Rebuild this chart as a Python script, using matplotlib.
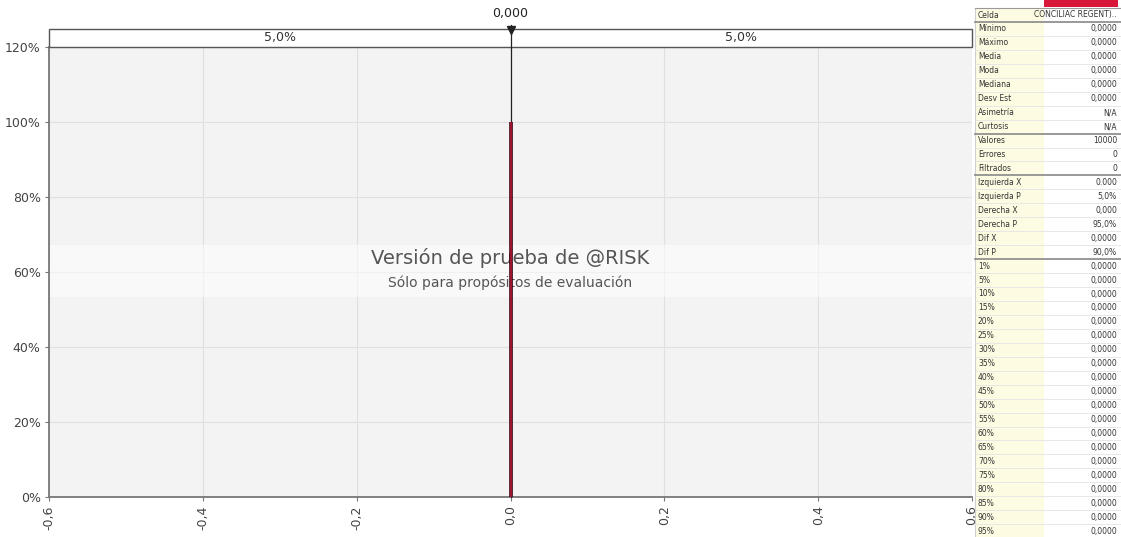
import matplotlib
matplotlib.use("Agg")
import matplotlib.pyplot as plt
from matplotlib.patches import Rectangle

plt.rcParams['font.family'] = ['DejaVu Sans']

# data
cdf_x = [0.0, 0.0]
cdf_p = [0.0, 1.0]
left_x = 0.0
left_p = 0.05
right_x = 0.0
right_p = 0.95
x_ticks = [-0.6, -0.4, -0.2, 0.0, 0.2, 0.4, 0.6]
x_tick_labels = ["-0,6", "-0,4", "-0,2", "0,0", "0,2", "0,4", "0,6"]
y_ticks = [0.0, 0.2, 0.4, 0.6, 0.8, 1.0, 1.2]
y_tick_labels = ["0%", "20%", "40%", "60%", "80%", "100%", "120%"]

stat_labels = ["Celda", "Mínimo", "Máximo", "Media", "Moda", "Mediana", "Desv Est",
               "Asimetría", "Curtosis", "Valores", "Errores", "Filtrados",
               "Izquierda X", "Izquierda P", "Derecha X", "Derecha P", "Dif X", "Dif P",
               "1%", "5%", "10%", "15%", "20%", "25%", "30%", "35%", "40%", "45%",
               "50%", "55%", "60%", "65%", "70%", "75%", "80%", "85%", "90%", "95%"]
stat_values = ["CONCILIAC REGENT)..", "0,0000", "0,0000", "0,0000", "0,0000", "0,0000",
               "0,0000", "N/A", "N/A", "10000", "0", "0",
               "0.000", "5,0%", "0,000", "95,0%", "0,0000", "90,0%"] + ["0,0000"] * 20
separators = [0, 8, 11, 17]

W, H = 1121, 537
fig = plt.figure(figsize=(W / 100, H / 100), dpi=100)
fig.patch.set_facecolor("white")

ax = fig.add_axes([49 / W, 1 - 497 / H, (972 - 49) / W, (497 - 47) / H])
ax.set_facecolor("#f3f3f3")
ax.set_xlim(-0.6, 0.6)
ax.set_ylim(0, 1.2)
ax.set_xticks(x_ticks)
ax.set_xticklabels(x_tick_labels, rotation=90, fontsize=9, color="#444")
ax.set_yticks(y_ticks)
ax.set_yticklabels(y_tick_labels, fontsize=9, color="#444")
ax.tick_params(length=3, color="#777", pad=3)
ax.grid(True, color="#e0e0e0", lw=0.8)
ax.set_axisbelow(True)
for s in ["top", "right"]:
    ax.spines[s].set_visible(False)
for s in ["left", "bottom"]:
    ax.spines[s].set_color("#777")
    ax.spines[s].set_linewidth(1.3)

# watermark band
ax.add_patch(Rectangle((0, 0.444), 1, 0.116, transform=ax.transAxes,
                       facecolor="white", alpha=0.55, edgecolor="none", zorder=2))
ax.text(0.5, 0.531, "Versión de prueba de @RISK", transform=ax.transAxes,
        ha="center", va="center", fontsize=14, color="#555", zorder=3)
ax.text(0.5, 0.476, "Sólo para propósitos de evaluación", transform=ax.transAxes,
        ha="center", va="center", fontsize=10, color="#555", zorder=3)

# cumulative curve
band_h = 0.04
ax.plot([left_x, left_x], [0, 1.2 * (1 + band_h) + 0.01], color="#222", lw=0.9,
        clip_on=False, zorder=4)
ax.plot(cdf_x, cdf_p, color="#3a0010", lw=2.6, zorder=5, solid_capstyle="butt")
ax.plot(cdf_x, cdf_p, color="#a3142e", lw=1.4, zorder=5, solid_capstyle="butt")

# top band
ax.add_patch(Rectangle((0, 1.0), 1, band_h, transform=ax.transAxes, facecolor="white",
                       edgecolor="#555", lw=1, clip_on=False, zorder=3))
ax.text((-0.6 + left_x) / 2, 1.2 * (1 + band_h / 2), f"{left_p * 100:.1f}%".replace(".", ","),
        ha="center", va="center", fontsize=9, color="#333", zorder=4, clip_on=False)
ax.text((right_x + 0.6) / 2, 1.2 * (1 + band_h / 2), f"{(1 - right_p) * 100:.1f}%".replace(".", ","),
        ha="center", va="center", fontsize=9, color="#333", zorder=4, clip_on=False)
ax.plot([left_x], [1.2 * (1 + band_h) - 0.002], marker="v", color="#222", ms=6,
        clip_on=False, zorder=6)
ax.text(left_x, 1.2 * (1 + band_h) + 0.04, f"{left_x:.3f}".replace(".", ","),
        ha="center", va="center", fontsize=9, color="#222", clip_on=False)

# statistics table
def fx(px):
    return px / W


def fy(py):
    return 1 - py / H


tx0, tx1, tx2 = 975, 1044, 1121
step = 13.95
y_first = 15
top0 = y_first - step / 2
fig.patches.append(Rectangle((fx(tx0), 0), fx(tx1) - fx(tx0), fy(top0), transform=fig.transFigure,
                             facecolor="#fdfbe2", edgecolor="none"))
fig.patches.append(Rectangle((fx(tx1), fy(top0 - 1)), fx(tx2 - 3) - fx(tx1), fy(0) - fy(top0 - 1),
                             transform=fig.transFigure, facecolor="#d8173b", edgecolor="none"))
fig.add_artist(plt.Line2D([fx(tx0), fx(tx0)], [0, fy(top0)], transform=fig.transFigure,
                          color="#cfcfcf", lw=0.8))
for i, (lab, val) in enumerate(zip(stat_labels, stat_values)):
    yc = y_first + i * step
    fig.text(fx(tx0 + 3), fy(yc), lab, ha="left", va="center", fontsize=5.5, color="#333")
    fig.text(fx(tx2 - 4), fy(yc), val, ha="right", va="center", fontsize=5.5, color="#333")
    yb = yc + step / 2
    if i in separators:
        fig.add_artist(plt.Line2D([fx(tx0), fx(tx2)], [fy(yb), fy(yb)], transform=fig.transFigure,
                                  color="#888", lw=1.2))
    else:
        fig.add_artist(plt.Line2D([fx(tx0), fx(tx2)], [fy(yb), fy(yb)], transform=fig.transFigure,
                                  color="#e4e4e4", lw=0.6))
fig.add_artist(plt.Line2D([fx(tx0), fx(tx2)], [fy(top0), fy(top0)], transform=fig.transFigure,
                          color="#999", lw=0.8))

fig.savefig("out.png", dpi=100)
